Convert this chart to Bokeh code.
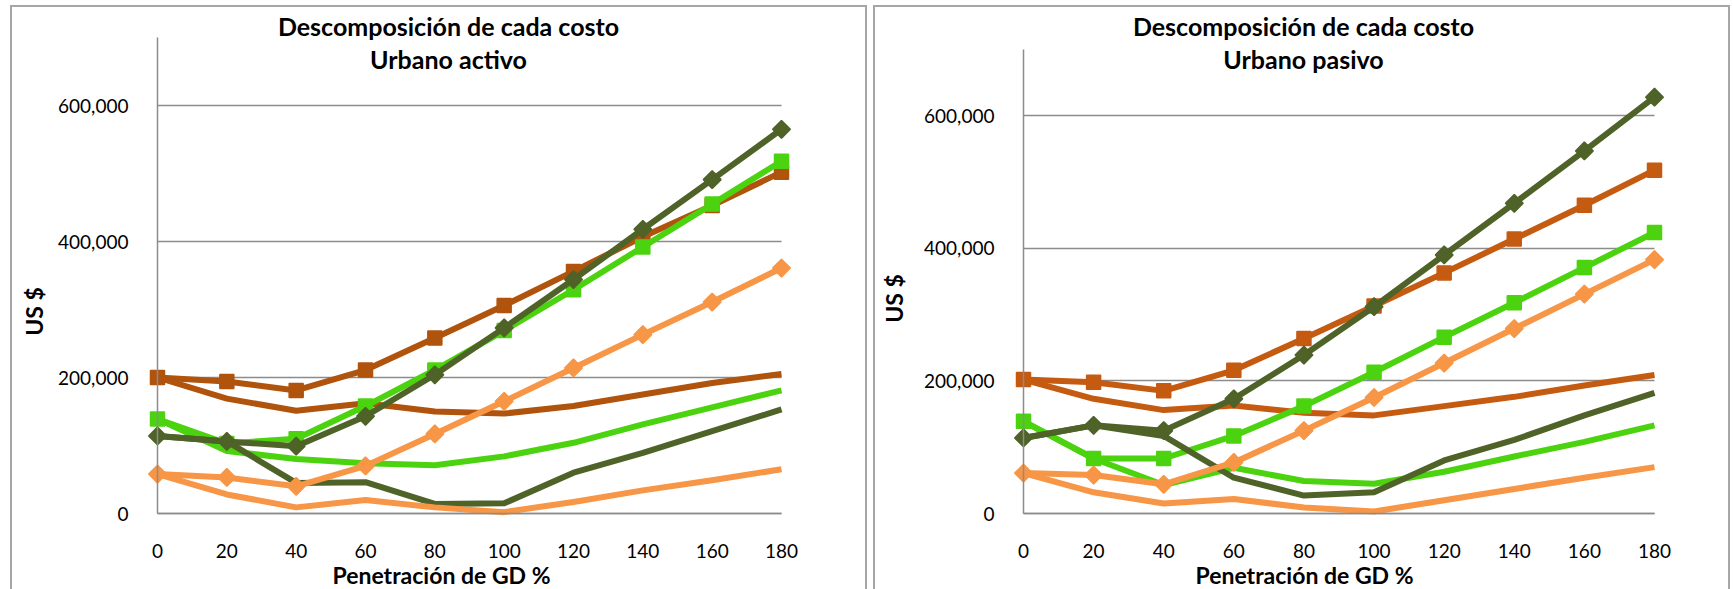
import math

from bokeh.plotting import figure
from bokeh.layouts import row
from bokeh.models import Range1d, FixedTicker, NumeralTickFormatter, Label
from bokeh.embed import file_html
from bokeh.resources import INLINE

# Penetración de GD (%) en el eje de categorías
gd_pct = [0, 20, 40, 60, 80, 100, 120, 140, 160, 180]
y_ticks = [0, 200000, 400000, 600000]
y_max = 700000

# Urbano activo (US $)
act_naranja_marc = [200000, 194000, 181000, 211000, 258000, 306000, 356000, 407000, 453000, 502000]
act_naranja = [200000, 169000, 151000, 162000, 150000, 147000, 158000, 175000, 192000, 205000]
act_verde_marc = [139000, 103000, 110000, 158000, 211000, 269000, 329000, 392000, 455000, 518000]
act_verde = [139000, 92000, 80000, 74000, 71000, 84000, 104000, 131000, 156000, 181000]
act_oliva_marc = [114000, 106000, 99000, 143000, 204000, 273000, 344000, 418000, 491000, 565000]
act_oliva = [114000, 106000, 45000, 46000, 14000, 15000, 60000, 89000, 121000, 153000]
act_claro_marc = [58000, 53000, 40000, 70000, 117000, 165000, 214000, 263000, 311000, 361000]
act_claro = [58000, 28000, 9000, 20000, 9000, 2000, 17000, 34000, 49000, 65000]

# Urbano pasivo (US $)
pas_naranja_marc = [202000, 198000, 185000, 216000, 264000, 313000, 363000, 414000, 465000, 518000]
pas_naranja = [202000, 173000, 156000, 163000, 152000, 148000, 162000, 176000, 193000, 209000]
pas_verde_marc = [139000, 83000, 83000, 117000, 162000, 213000, 266000, 318000, 371000, 424000]
pas_verde = [139000, 83000, 43000, 69000, 49000, 45000, 63000, 86000, 108000, 133000]
pas_oliva_marc = [114000, 133000, 125000, 173000, 239000, 312000, 390000, 468000, 547000, 628000]
pas_oliva = [114000, 133000, 117000, 54000, 27000, 32000, 80000, 111000, 148000, 182000]
pas_claro_marc = [61000, 58000, 44000, 77000, 125000, 175000, 227000, 279000, 331000, 383000]
pas_claro = [61000, 32000, 15000, 22000, 9000, 3000, 20000, 37000, 54000, 70000]

FONT = "Lato"
VERDE = "#4cd30f"
OLIVA = "#4f6228"
CLARO = "#f79646"
GRIS = "#8c8c8c"
BORDE = "#a6a6a6"

HOST_W, HOST_H, HOST_TOP = 857, 584, 5


def panel(subtitle, series, naranja, host_x, margin_left, x0, x180, y0, ytop,
          title_cx, xlab_cx, ylab_cx, ylab_cy):
    # el área de trazado ocupa todo el recuadro; los ejes van fijos en x=0 e y=0
    px_x = (x180 - x0) / (gd_pct[-1] - gd_pct[0])
    px_y = (y0 - ytop) / y_max
    host_b = HOST_TOP + HOST_H

    p = figure(
        width=HOST_W, height=HOST_H,
        x_range=Range1d((host_x - x0) / px_x, (host_x + HOST_W - x0) / px_x),
        y_range=Range1d((y0 - host_b) / px_y, (y0 - HOST_TOP) / px_y),
        output_backend="svg", toolbar_location=None, title=None,
        min_border=0,
        border_fill_color=None, background_fill_color=None,
        outline_line_color=None,
        margin=(HOST_TOP, 0, 0, margin_left),
        styles={"box-shadow": f"inset 2px 0 0 {BORDE}, inset -2px 0 0 {BORDE}, inset 0 2px 0 {BORDE}"},
    )

    p.xaxis.fixed_location = 0
    p.yaxis.fixed_location = 0
    p.xaxis.bounds = (gd_pct[0], gd_pct[-1])
    p.yaxis.bounds = (0, y_max)
    p.xaxis.ticker = FixedTicker(ticks=gd_pct)
    p.yaxis.ticker = FixedTicker(ticks=y_ticks)
    p.yaxis.formatter = NumeralTickFormatter(format="0,0")
    for ax in (p.xaxis, p.yaxis):
        ax.axis_line_color = GRIS
        ax.axis_line_width = 1.5
        ax.major_tick_line_color = None
        ax.minor_tick_line_color = None
        ax.major_label_text_font = FONT
        ax.major_label_text_font_size = "19px"
        ax.major_label_text_color = "#000000"
    p.xaxis.major_label_standoff = 24
    p.yaxis.major_label_standoff = 23

    p.xgrid.visible = False
    p.ygrid.grid_line_color = GRIS
    p.ygrid.grid_line_width = 1.5
    p.ygrid.bounds = (0, y_max)
    p.ygrid.cross_bounds = (gd_pct[0], gd_pct[-1])

    colores = [naranja, naranja, VERDE, VERDE, OLIVA, OLIVA, CLARO, CLARO]
    marcas = ["square", None, "square", None, "diamond", None, "diamond", None]
    for vals, c, m in zip(series, colores, marcas):
        p.line(gd_pct, vals, line_color=c, line_width=6, line_join="round")
        if m == "square":
            p.scatter(gd_pct, vals, marker="square", size=14, fill_color=c,
                      line_color=c, line_width=1.5)
        elif m == "diamond":
            p.scatter(gd_pct, vals, marker="square", angle=math.pi / 4, size=12.5,
                      fill_color=c, line_color=c, line_width=1.5)

    def txt(text, px, py, size, angle=0.0):
        p.add_layout(Label(
            x=px - host_x, y=host_b - py, x_units="screen", y_units="screen",
            text=text, text_font=FONT, text_font_style="bold",
            text_font_size=size, text_color="#000000",
            text_align="center", text_baseline="middle", angle=angle,
        ))

    txt("Descomposición de cada costo", title_cx, 25, "25px")
    txt(subtitle, title_cx, 58, "25px")
    txt("Penetración de GD %", xlab_cx, 574, "23px")
    txt("US $", ylab_cx, ylab_cy, "23px", angle=math.pi / 2)
    return p


activo = [act_naranja_marc, act_naranja, act_verde_marc, act_verde,
          act_oliva_marc, act_oliva, act_claro_marc, act_claro]
pasivo = [pas_naranja_marc, pas_naranja, pas_verde_marc, pas_verde,
          pas_oliva_marc, pas_oliva, pas_claro_marc, pas_claro]

p1 = panel("Urbano activo", activo, "#b0530c", host_x=10, margin_left=10,
           x0=157, x180=781, y0=513, ytop=37,
           title_cx=448, xlab_cx=441, ylab_cx=33, ylab_cy=311)
p2 = panel("Urbano pasivo", pasivo, "#c55a11", host_x=873, margin_left=6,
           x0=1023, x180=1654, y0=513, ytop=49,
           title_cx=1303, xlab_cx=1304, ylab_cx=893, ylab_cy=298)

layout = row(p1, p2)
open("out.html", "w").write(file_html(layout, INLINE))
